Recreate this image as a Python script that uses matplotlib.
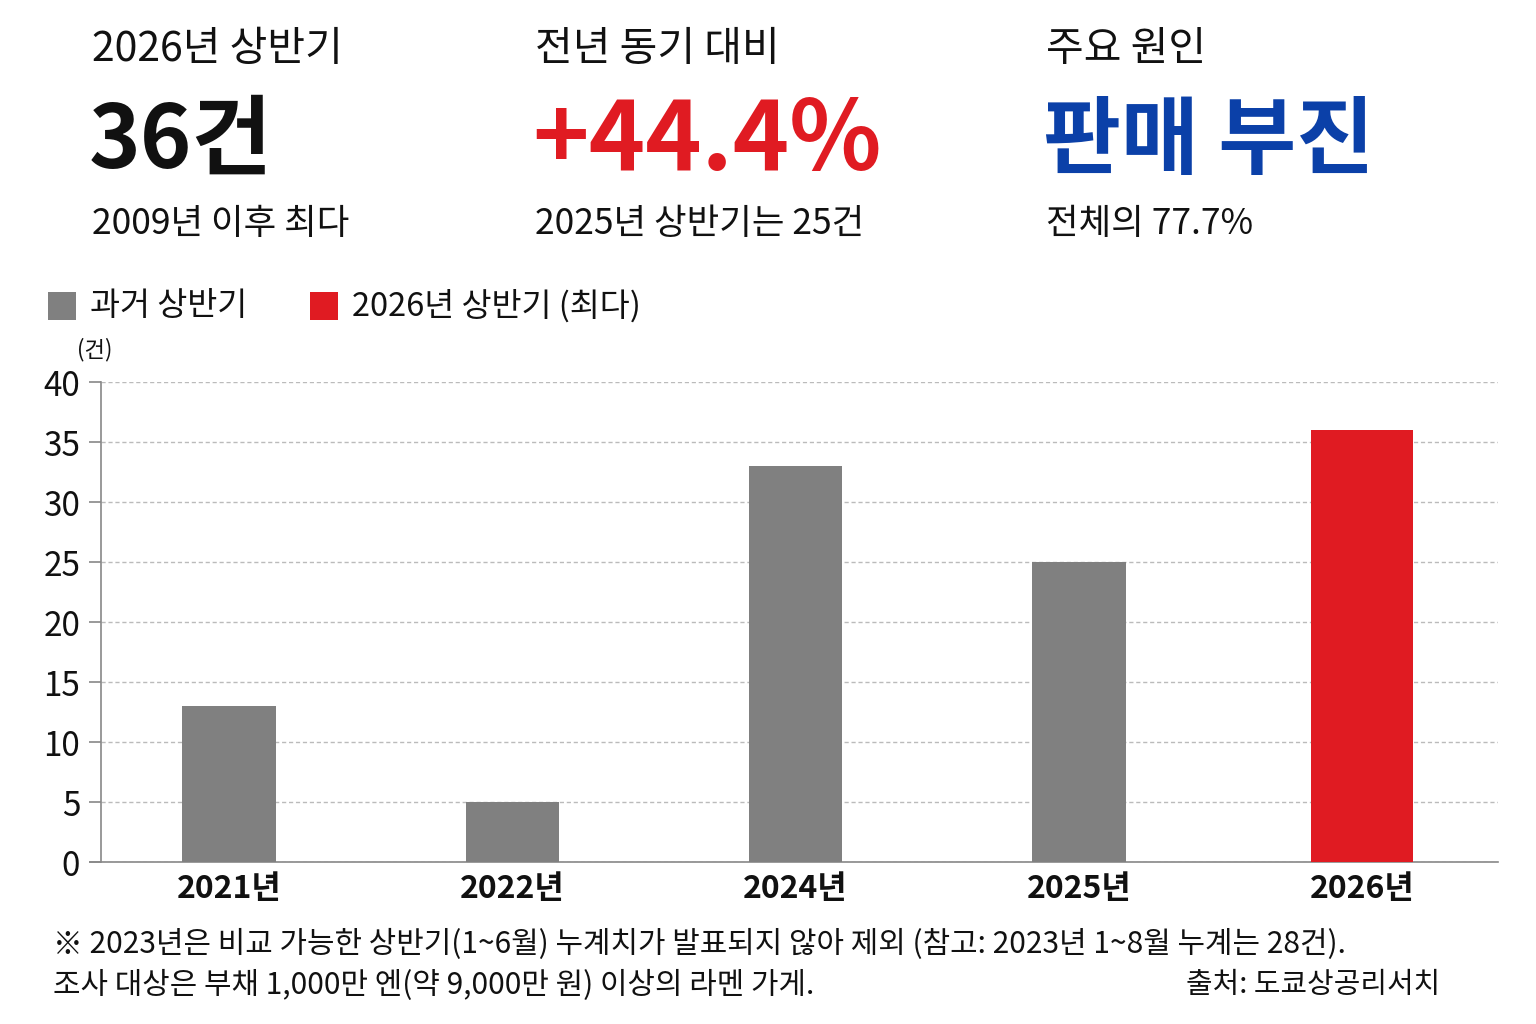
import matplotlib
matplotlib.use("Agg")
import matplotlib.pyplot as plt
from matplotlib.patches import Rectangle

plt.rcParams['font.family'] = ['Noto Sans CJK KR', 'DejaVu Sans']

# ---- data ----
years = ["2021년", "2022년", "2024년", "2025년", "2026년"]
counts = [13, 5, 33, 25, 36]
highlight = [False, False, False, False, True]
yticks = [0, 5, 10, 15, 20, 25, 30, 35, 40]

kpi_titles = ["2026년 상반기", "전년 동기 대비", "주요 원인"]
kpi_values = ["36건", "+44.4%", "판매 부진"]
kpi_notes = ["2009년 이후 최다", "2025년 상반기는 25건", "전체의 77.7%"]
legend_labels = ["과거 상반기", "2026년 상반기 (최다)"]
unit_label = "(건)"
footnote1 = "※ 2023년은 비교 가능한 상반기(1~6월) 누계치가 발표되지 않아 제외 (참고: 2023년 1~8월 누계는 28건)."
footnote2 = "조사 대상은 부채 1,000만 엔(약 9,000만 원) 이상의 라멘 가게."
source = "출처: 도쿄상공리서치"

GRAY = "#808080"
RED = "#E01B22"
BLUE = "#0B40A8"
BLACK = "#111111"

fig = plt.figure(figsize=(15.36, 10.24), dpi=100)
W, H = 1536, 1024

def fx(px):
    return px / W

def fy(py):
    return 1 - py / H

# ---- KPI header ----
kpi_x = [92, 535, 1046]
kpi_colors = [BLACK, RED, BLUE]
kpi_sizes = [63, 69, 61]
for i in range(3):
    fig.text(fx(kpi_x[i]), fy(50), kpi_titles[i], fontsize=29.5, color=BLACK,
             ha='left', va='center')
    fig.text(fx(kpi_x[i] - 3), fy(142), kpi_values[i], fontsize=kpi_sizes[i], color=kpi_colors[i],
             ha='left', va='center', fontweight='bold')
    fig.text(fx(kpi_x[i]), fy(224), kpi_notes[i], fontsize=25.5, color=BLACK,
             ha='left', va='center')

# ---- legend ----
leg_items = [(48, legend_labels[0], GRAY), (310, legend_labels[1], RED)]
for x0, lab, col in leg_items:
    fig.patches.append(Rectangle((fx(x0), fy(320)), 28 / W, 28 / H, transform=fig.transFigure,
                                 facecolor=col, edgecolor='none'))
    fig.text(fx(x0 + 42), fy(306), lab, fontsize=23.5, color=BLACK, ha='left', va='center')

fig.text(fx(77), fy(350), unit_label, fontsize=16, color=BLACK, ha='left', va='center')

# ---- chart ----
ax = fig.add_axes([fx(101), fy(862), fx(1498) - fx(101), fy(382) - fy(862)])
x = list(range(len(years)))
colors = [RED if h else GRAY for h in highlight]
widths = [0.36 if h else 0.33 for h in highlight]
ax.bar(x, counts, width=widths, color=colors, zorder=3)

ax.set_ylim(0, 40)
ax.set_xlim(-0.452, 4.48)
ax.set_yticks(yticks)
ax.set_yticklabels([str(v) for v in yticks], fontsize=24, color=BLACK)
ax.set_xticks(x)
ax.set_xticklabels(years, fontsize=23, color=BLACK, fontweight='bold')
ax.tick_params(axis='y', length=9, width=1.2, color='#888888', pad=6)
ax.tick_params(axis='x', length=0, pad=8)

ax.yaxis.grid(True, linestyle=(0, (3, 2)), color='#bbbbbb', linewidth=1.0, zorder=0)
ax.set_axisbelow(True)
for s in ['top', 'right']:
    ax.spines[s].set_visible(False)
ax.spines['left'].set_color('#888888')
ax.spines['left'].set_linewidth(1.2)
ax.spines['bottom'].set_color('#888888')
ax.spines['bottom'].set_linewidth(1.2)
ax.spines['bottom'].set_bounds(-0.49, 4.48)

# ---- footnotes ----
fig.text(fx(53), fy(944), footnote1, fontsize=21.5, color=BLACK, ha='left', va='center')
fig.text(fx(53), fy(985), footnote2, fontsize=21.5, color=BLACK, ha='left', va='center')
fig.text(fx(1440), fy(985), source, fontsize=20.8, color=BLACK, ha='right', va='center')

fig.savefig("out.png", dpi=100, facecolor='white')
